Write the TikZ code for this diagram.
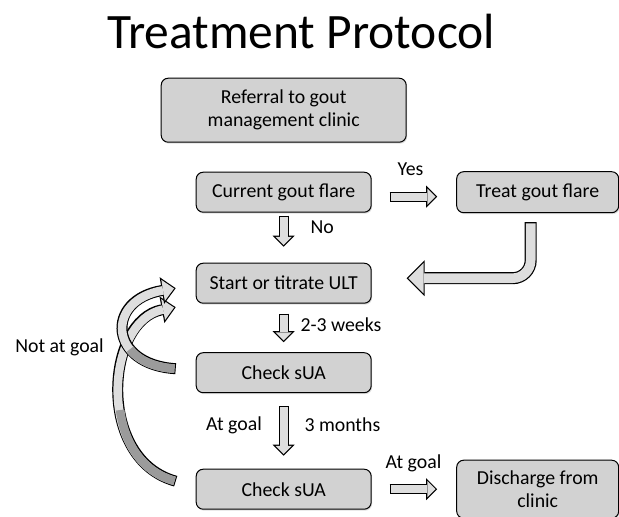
\documentclass[tikz,border=0pt]{standalone}
\usepackage{fontspec}
\setmainfont{Carlito}
\usetikzlibrary{matrix}
\usetikzlibrary{arrows.meta}
\usetikzlibrary{shadows}
\definecolor{boxgray}{RGB}{210,210,210}
\definecolor{arrowgray}{RGB}{222,222,222}
\definecolor{tailgray}{RGB}{155,155,155}
\tikzset{
  box/.style={draw, line width=1pt, rounded corners=7pt, fill=boxgray, anchor=center,
    minimum width=175pt, minimum height=40pt, inner sep=3pt,
    font=\fontsize{19.8}{23}\selectfont,
    drop shadow={opacity=.25, shadow xshift=1pt, shadow yshift=-1.5pt}},
  wide/.style={minimum width=245pt, minimum height=64pt, text width=168pt, align=flush center},
  side/.style={minimum width=162pt, minimum height=41pt},
  tall/.style={minimum width=162pt, minimum height=58pt, text width=140pt, align=flush center},
  lbl/.style={inner sep=1pt, font=\fontsize{19.8}{23}\selectfont},
  fat/.style n args={6}{draw=arrowgray, line width=#1,
    -{Triangle[width=#2,length=#3,line width=0pt]}, shorten <=1.2pt, shorten >=1.7pt,
    preaction={draw=black, line width=#4,
      -{Triangle[width=#5,length=#6,line width=0pt]}, shorten <=0pt, shorten >=0pt}},
  fatarrow/.style={fat={7.6pt}{16.2pt}{8.1pt}{10pt}{22pt}{11pt}},
  bentarrow/.style={fat={9.6pt}{30.2pt}{15.1pt}{12pt}{36pt}{18pt}},
  loopback/.style={fat={8.6pt}{21.3pt}{11.1pt}{11pt}{27pt}{14pt},
    postaction={draw=tailgray, line width=8.6pt, arrows=-, shorten <=1.2pt,
      shorten >=0pt, dash pattern=on #1 off 2000pt}},
}

\begin{document}
\begin{tikzpicture}[x=1pt, y=-1pt]
\useasboundingbox (0,0) rectangle (619,517);
\node (title) [font=\fontsize{49.5}{58}\selectfont, anchor=base] at (301,48) {Treatment Protocol};
\matrix (m) [matrix of nodes
            ,nodes={box}
            ,column sep=49.5pt
            ,row sep=0pt
            ,inner sep=0pt
            ,matrix anchor=north west] at (160.5,77.5)
  {
     |[wide]| Referral to gout management clinic \\[28.5pt]
     Current gout flare & |[side]| Treat gout flare \\[49.5pt]
     Start or titrate ULT \\[48.5pt]
     Check sUA \\[66.5pt]
     Check sUA & |[tall]| Discharge from clinic \\
  };
  \path
    ([yshift=-3pt]m-2-1.south) edge[fatarrow] node [lbl, right=22pt, yshift=4pt] {No} ([yshift=16pt]m-3-1.north)
    ([xshift=18pt, yshift=-4.5pt]m-2-1.east) edge[fatarrow] node [lbl, above=16pt, xshift=-3pt] {Yes} ([xshift=-19pt, yshift=-4.5pt]m-2-2.west)
    ([yshift=-10pt]m-3-1.south) edge[fatarrow] node [lbl, right=12pt, yshift=3pt] {2-3 weeks} ([yshift=10pt]m-4-1.north)
    ([yshift=-13pt]m-4-1.south) edge[fatarrow] node [lbl, right=16pt, yshift=6pt] {3 months} node [lbl, left=17pt, yshift=6pt] {At goal} ([yshift=13pt]m-5-1.north)
    ([xshift=18pt]m-5-1.east) edge[fatarrow] node [lbl, above=13pt] {At goal} ([xshift=-19pt]m-5-2.west)
    ;
  \draw[bentarrow, rounded corners=18pt] ([xshift=-7pt, yshift=-9pt]m-2-2.south) |- ([xshift=35pt, yshift=5pt]m-3-1.east);
  % not at goal: back to start
  \node (notgoal) [lbl] at (59.5,347) {Not at goal};
  \draw[loopback=95pt] ([xshift=-20pt, yshift=8pt]m-5-1.west) .. controls +(-80,-22) and +(-70,13) .. ([xshift=-20pt, yshift=-24pt]m-3-1.west);
  \draw[loopback=50pt] ([xshift=-20pt, yshift=4pt]m-4-1.west) .. controls +(-67,-4) and +(-71,12) .. ([xshift=-20pt, yshift=-5pt]m-3-1.west);
\end{tikzpicture}
\end{document}
